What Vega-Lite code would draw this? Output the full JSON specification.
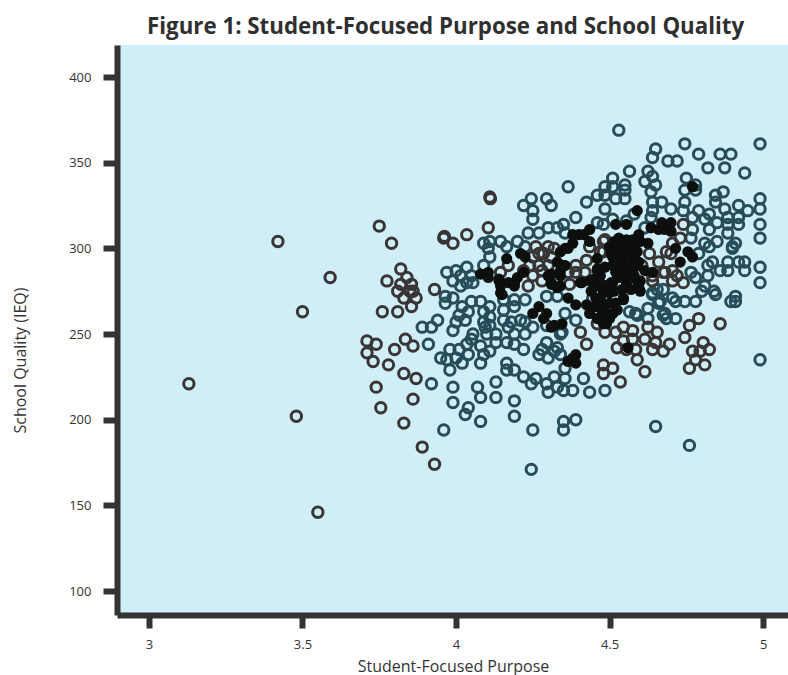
{"$schema":"https://vega.github.io/schema/vega-lite/v6.json","width":671,"height":570,"autosize":{"type":"none"},"padding":{"left":117,"top":45,"right":0,"bottom":60},"background":"white","title":{"text":"Figure 1: Student-Focused Purpose and School Quality","font":"Open Sans","fontWeight":"bold","fontSize":22.3,"color":"#2f2f2f","anchor":"start","frame":"group","dx":30,"dy":-7,"offset":0},"config":{"view":{"stroke":null,"fill":"#cfeef7"}},"data":{"values":[
{"x":3.92,"y":221,"g":"t"},{"x":3.96,"y":194,"g":"t"},{"x":3.99,"y":219,"g":"t"},{"x":3.99,"y":210,"g":"t"},{"x":4.07,"y":219,"g":"t"},{"x":4.08,"y":213,"g":"t"},{"x":4.13,"y":222,"g":"t"},{"x":4.13,"y":213,"g":"t"},{"x":4.19,"y":211,"g":"t"},{"x":4.19,"y":202,"g":"t"},{"x":4.08,"y":199,"g":"t"},{"x":4.04,"y":207,"g":"t"},{"x":4.03,"y":203,"g":"t"},{"x":4.25,"y":194,"g":"t"},{"x":4.245,"y":171,"g":"t"},{"x":4.35,"y":199,"g":"t"},{"x":4.35,"y":194,"g":"t"},{"x":4.39,"y":200,"g":"t"},{"x":3.89,"y":254,"g":"t"},{"x":3.92,"y":254,"g":"t"},{"x":3.94,"y":258,"g":"t"},{"x":3.91,"y":244,"g":"t"},{"x":3.95,"y":236,"g":"t"},{"x":3.98,"y":241,"g":"t"},{"x":3.97,"y":235,"g":"t"},{"x":4.01,"y":241,"g":"t"},{"x":3.98,"y":229,"g":"t"},{"x":4.0,"y":236,"g":"t"},{"x":4.02,"y":233,"g":"t"},{"x":4.04,"y":238,"g":"t"},{"x":4.035,"y":244,"g":"t"},{"x":4.05,"y":247,"g":"t"},{"x":4.08,"y":233,"g":"t"},{"x":4.08,"y":243,"g":"t"},{"x":4.11,"y":240,"g":"t"},{"x":4.09,"y":238,"g":"t"},{"x":4.165,"y":233,"g":"t"},{"x":4.165,"y":229,"g":"t"},{"x":4.19,"y":229,"g":"t"},{"x":4.22,"y":225,"g":"t"},{"x":4.26,"y":224,"g":"t"},{"x":4.245,"y":221,"g":"t"},{"x":4.295,"y":221,"g":"t"},{"x":4.3,"y":216,"g":"t"},{"x":4.32,"y":225,"g":"t"},{"x":4.33,"y":219,"g":"t"},{"x":4.35,"y":217,"g":"t"},{"x":4.355,"y":224,"g":"t"},{"x":4.38,"y":217,"g":"t"},{"x":4.355,"y":230,"g":"t"},{"x":3.99,"y":252,"g":"t"},{"x":4.0,"y":257,"g":"t"},{"x":4.03,"y":258,"g":"t"},{"x":4.01,"y":261,"g":"t"},{"x":4.02,"y":266,"g":"t"},{"x":3.965,"y":268,"g":"t"},{"x":3.965,"y":272,"g":"t"},{"x":3.99,"y":271,"g":"t"},{"x":4.04,"y":263,"g":"t"},{"x":4.05,"y":269,"g":"t"},{"x":4.08,"y":269,"g":"t"},{"x":4.09,"y":263,"g":"t"},{"x":4.11,"y":266,"g":"t"},{"x":4.11,"y":260,"g":"t"},{"x":4.09,"y":257,"g":"t"},{"x":4.095,"y":254,"g":"t"},{"x":4.11,"y":255,"g":"t"},{"x":4.155,"y":264,"g":"t"},{"x":4.155,"y":258,"g":"t"},{"x":4.18,"y":257,"g":"t"},{"x":4.19,"y":266,"g":"t"},{"x":4.21,"y":258,"g":"t"},{"x":4.225,"y":270,"g":"t"},{"x":4.25,"y":254,"g":"t"},{"x":4.225,"y":250,"g":"t"},{"x":4.19,"y":250,"g":"t"},{"x":4.13,"y":250,"g":"t"},{"x":4.13,"y":245,"g":"t"},{"x":4.165,"y":245,"g":"t"},{"x":4.19,"y":244,"g":"t"},{"x":4.22,"y":241,"g":"t"},{"x":4.1,"y":250,"g":"t"},{"x":4.295,"y":245,"g":"t"},{"x":4.27,"y":238,"g":"t"},{"x":4.28,"y":241,"g":"t"},{"x":4.3,"y":236,"g":"t"},{"x":4.32,"y":240,"g":"t"},{"x":4.33,"y":242,"g":"t"},{"x":4.34,"y":238,"g":"t"},{"x":4.34,"y":250,"g":"t"},{"x":4.295,"y":255,"g":"t"},{"x":4.295,"y":272,"g":"t"},{"x":4.33,"y":272,"g":"t"},{"x":4.155,"y":270,"g":"t"},{"x":4.19,"y":270,"g":"t"},{"x":4.17,"y":254,"g":"t"},{"x":4.225,"y":257,"g":"t"},{"x":4.055,"y":250,"g":"t"},{"x":4.365,"y":336,"g":"t"},{"x":4.245,"y":329,"g":"t"},{"x":4.295,"y":329,"g":"t"},{"x":4.22,"y":325,"g":"t"},{"x":4.31,"y":325,"g":"t"},{"x":4.25,"y":322,"g":"t"},{"x":4.25,"y":317,"g":"t"},{"x":4.39,"y":318,"g":"t"},{"x":4.09,"y":303,"g":"t"},{"x":4.11,"y":304,"g":"t"},{"x":4.145,"y":304,"g":"t"},{"x":4.2,"y":304,"g":"t"},{"x":4.235,"y":309,"g":"t"},{"x":4.27,"y":309,"g":"t"},{"x":4.3,"y":312,"g":"t"},{"x":4.33,"y":312,"g":"t"},{"x":4.35,"y":314,"g":"t"},{"x":4.355,"y":309,"g":"t"},{"x":4.105,"y":300,"g":"t"},{"x":4.165,"y":301,"g":"t"},{"x":4.11,"y":295,"g":"t"},{"x":4.09,"y":290,"g":"t"},{"x":4.225,"y":301,"g":"t"},{"x":3.97,"y":286,"g":"t"},{"x":4.0,"y":287,"g":"t"},{"x":4.035,"y":289,"g":"t"},{"x":3.99,"y":281,"g":"t"},{"x":4.015,"y":284,"g":"t"},{"x":4.05,"y":284,"g":"t"},{"x":4.035,"y":280,"g":"t"},{"x":4.015,"y":278,"g":"t"},{"x":4.055,"y":280,"g":"t"},{"x":4.53,"y":369,"g":"t"},{"x":4.65,"y":358,"g":"t"},{"x":4.64,"y":353,"g":"t"},{"x":4.745,"y":361,"g":"t"},{"x":4.69,"y":351,"g":"t"},{"x":4.72,"y":351,"g":"t"},{"x":4.79,"y":355,"g":"t"},{"x":4.86,"y":355,"g":"t"},{"x":4.895,"y":355,"g":"t"},{"x":4.99,"y":361,"g":"t"},{"x":4.82,"y":347,"g":"t"},{"x":4.875,"y":347,"g":"t"},{"x":4.94,"y":344,"g":"t"},{"x":4.565,"y":345,"g":"t"},{"x":4.625,"y":345,"g":"t"},{"x":4.64,"y":342,"g":"t"},{"x":4.51,"y":341,"g":"t"},{"x":4.615,"y":339,"g":"t"},{"x":4.65,"y":337,"g":"t"},{"x":4.55,"y":337,"g":"t"},{"x":4.485,"y":336,"g":"t"},{"x":4.51,"y":336,"g":"t"},{"x":4.55,"y":334,"g":"t"},{"x":4.46,"y":331,"g":"t"},{"x":4.485,"y":331,"g":"t"},{"x":4.52,"y":329,"g":"t"},{"x":4.55,"y":329,"g":"t"},{"x":4.635,"y":333,"g":"t"},{"x":4.425,"y":327,"g":"t"},{"x":4.485,"y":323,"g":"t"},{"x":4.75,"y":341,"g":"t"},{"x":4.78,"y":337,"g":"t"},{"x":4.745,"y":334,"g":"t"},{"x":4.78,"y":334,"g":"t"},{"x":4.845,"y":331,"g":"t"},{"x":4.87,"y":333,"g":"t"},{"x":4.745,"y":327,"g":"t"},{"x":4.845,"y":327,"g":"t"},{"x":4.64,"y":327,"g":"t"},{"x":4.67,"y":327,"g":"t"},{"x":4.7,"y":323,"g":"t"},{"x":4.64,"y":322,"g":"t"},{"x":4.74,"y":322,"g":"t"},{"x":4.79,"y":322,"g":"t"},{"x":4.825,"y":320,"g":"t"},{"x":4.875,"y":323,"g":"t"},{"x":4.92,"y":325,"g":"t"},{"x":4.95,"y":322,"g":"t"},{"x":4.99,"y":329,"g":"t"},{"x":4.99,"y":323,"g":"t"},{"x":4.99,"y":314,"g":"t"},{"x":4.99,"y":306,"g":"t"},{"x":4.92,"y":318,"g":"t"},{"x":4.92,"y":314,"g":"t"},{"x":4.885,"y":318,"g":"t"},{"x":4.85,"y":315,"g":"t"},{"x":4.885,"y":314,"g":"t"},{"x":4.81,"y":317,"g":"t"},{"x":4.77,"y":318,"g":"t"},{"x":4.77,"y":311,"g":"t"},{"x":4.825,"y":311,"g":"t"},{"x":4.885,"y":309,"g":"t"},{"x":4.85,"y":304,"g":"t"},{"x":4.9,"y":301,"g":"t"},{"x":4.91,"y":303,"g":"t"},{"x":4.9,"y":300,"g":"t"},{"x":4.81,"y":303,"g":"t"},{"x":4.825,"y":301,"g":"t"},{"x":4.765,"y":306,"g":"t"},{"x":4.79,"y":297,"g":"t"},{"x":4.835,"y":292,"g":"t"},{"x":4.82,"y":290,"g":"t"},{"x":4.885,"y":292,"g":"t"},{"x":4.92,"y":292,"g":"t"},{"x":4.94,"y":292,"g":"t"},{"x":4.86,"y":287,"g":"t"},{"x":4.885,"y":287,"g":"t"},{"x":4.94,"y":287,"g":"t"},{"x":4.99,"y":289,"g":"t"},{"x":4.99,"y":280,"g":"t"},{"x":4.82,"y":284,"g":"t"},{"x":4.78,"y":283,"g":"t"},{"x":4.765,"y":286,"g":"t"},{"x":4.81,"y":278,"g":"t"},{"x":4.84,"y":275,"g":"t"},{"x":4.635,"y":318,"g":"t"},{"x":4.58,"y":320,"g":"t"},{"x":4.46,"y":315,"g":"t"},{"x":4.48,"y":314,"g":"t"},{"x":4.51,"y":317,"g":"t"},{"x":4.555,"y":316,"g":"t"},{"x":4.615,"y":312,"g":"t"},{"x":4.99,"y":235,"g":"t"},{"x":4.65,"y":196,"g":"t"},{"x":4.76,"y":185,"g":"t"},{"x":4.415,"y":224,"g":"t"},{"x":4.435,"y":216,"g":"t"},{"x":4.485,"y":217,"g":"t"},{"x":4.625,"y":265,"g":"t"},{"x":4.715,"y":269,"g":"t"},{"x":4.745,"y":269,"g":"t"},{"x":4.78,"y":269,"g":"t"},{"x":4.68,"y":262,"g":"t"},{"x":4.715,"y":259,"g":"t"},{"x":4.685,"y":259,"g":"t"},{"x":4.845,"y":273,"g":"t"},{"x":4.895,"y":269,"g":"t"},{"x":4.91,"y":272,"g":"t"},{"x":4.91,"y":269,"g":"t"},{"x":4.64,"y":273,"g":"t"},{"x":4.66,"y":268,"g":"t"},{"x":4.59,"y":261,"g":"t"},{"x":4.565,"y":263,"g":"t"},{"x":4.625,"y":259,"g":"t"},{"x":4.8,"y":275,"g":"t"},{"x":4.39,"y":258,"g":"t"},{"x":4.355,"y":262,"g":"t"},{"x":4.445,"y":271,"g":"t"},{"x":4.345,"y":251,"g":"t"},{"x":4.675,"y":261,"g":"t"},{"x":4.665,"y":269,"g":"t"},{"x":4.585,"y":262,"g":"t"},{"x":4.655,"y":276,"g":"t"},{"x":4.675,"y":276,"g":"t"},{"x":4.64,"y":274,"g":"t"},{"x":4.705,"y":271,"g":"t"},
{"x":3.13,"y":221,"g":"g"},{"x":3.42,"y":304,"g":"g"},{"x":3.48,"y":202,"g":"g"},{"x":3.5,"y":263,"g":"g"},{"x":3.55,"y":146,"g":"g"},{"x":3.59,"y":283,"g":"g"},{"x":3.75,"y":313,"g":"g"},{"x":3.79,"y":303,"g":"g"},{"x":3.82,"y":288,"g":"g"},{"x":3.84,"y":283,"g":"g"},{"x":3.775,"y":281,"g":"g"},{"x":3.82,"y":279,"g":"g"},{"x":3.855,"y":279,"g":"g"},{"x":3.81,"y":275,"g":"g"},{"x":3.86,"y":275,"g":"g"},{"x":3.85,"y":275,"g":"g"},{"x":3.83,"y":271,"g":"g"},{"x":3.87,"y":271,"g":"g"},{"x":3.855,"y":266,"g":"g"},{"x":3.76,"y":263,"g":"g"},{"x":3.81,"y":263,"g":"g"},{"x":3.835,"y":247,"g":"g"},{"x":3.86,"y":243,"g":"g"},{"x":3.8,"y":241,"g":"g"},{"x":3.71,"y":246,"g":"g"},{"x":3.74,"y":244,"g":"g"},{"x":3.71,"y":239,"g":"g"},{"x":3.73,"y":234,"g":"g"},{"x":3.78,"y":232,"g":"g"},{"x":3.83,"y":227,"g":"g"},{"x":3.87,"y":224,"g":"g"},{"x":3.74,"y":219,"g":"g"},{"x":3.86,"y":212,"g":"g"},{"x":3.755,"y":207,"g":"g"},{"x":3.83,"y":198,"g":"g"},{"x":3.89,"y":184,"g":"g"},{"x":3.93,"y":174,"g":"g"},{"x":3.93,"y":276,"g":"g"},{"x":4.11,"y":330,"g":"g"},{"x":4.112,"y":329,"g":"g"},{"x":4.105,"y":312,"g":"g"},{"x":4.035,"y":308,"g":"g"},{"x":3.96,"y":306,"g":"g"},{"x":3.962,"y":307,"g":"g"},{"x":3.99,"y":303,"g":"g"},{"x":4.26,"y":301,"g":"g"},{"x":4.285,"y":297,"g":"g"},{"x":4.32,"y":300,"g":"g"},{"x":4.27,"y":290,"g":"g"},{"x":4.3,"y":290,"g":"g"},{"x":4.17,"y":290,"g":"g"},{"x":4.145,"y":286,"g":"g"},{"x":4.22,"y":287,"g":"g"},{"x":4.25,"y":284,"g":"g"},{"x":4.28,"y":281,"g":"g"},{"x":4.235,"y":278,"g":"g"},{"x":4.39,"y":290,"g":"g"},{"x":4.365,"y":286,"g":"g"},{"x":4.74,"y":314,"g":"g"},{"x":4.73,"y":306,"g":"g"},{"x":4.63,"y":297,"g":"g"},{"x":4.66,"y":292,"g":"g"},{"x":4.685,"y":298,"g":"g"},{"x":4.68,"y":286,"g":"g"},{"x":4.72,"y":284,"g":"g"},{"x":4.705,"y":281,"g":"g"},{"x":4.74,"y":280,"g":"g"},{"x":4.64,"y":284,"g":"g"},{"x":4.47,"y":298,"g":"g"},{"x":4.435,"y":301,"g":"g"},{"x":4.485,"y":305,"g":"g"},{"x":4.425,"y":293,"g":"g"},{"x":4.405,"y":251,"g":"g"},{"x":4.425,"y":244,"g":"g"},{"x":4.48,"y":232,"g":"g"},{"x":4.51,"y":230,"g":"g"},{"x":4.48,"y":227,"g":"g"},{"x":4.535,"y":222,"g":"g"},{"x":4.615,"y":228,"g":"g"},{"x":4.59,"y":235,"g":"g"},{"x":4.585,"y":241,"g":"g"},{"x":4.555,"y":241,"g":"g"},{"x":4.525,"y":242,"g":"g"},{"x":4.575,"y":247,"g":"g"},{"x":4.575,"y":252,"g":"g"},{"x":4.545,"y":254,"g":"g"},{"x":4.545,"y":246,"g":"g"},{"x":4.52,"y":251,"g":"g"},{"x":4.485,"y":251,"g":"g"},{"x":4.615,"y":247,"g":"g"},{"x":4.625,"y":254,"g":"g"},{"x":4.655,"y":251,"g":"g"},{"x":4.64,"y":241,"g":"g"},{"x":4.65,"y":245,"g":"g"},{"x":4.675,"y":240,"g":"g"},{"x":4.695,"y":244,"g":"g"},{"x":4.46,"y":256,"g":"g"},{"x":4.86,"y":256,"g":"g"},{"x":4.79,"y":259,"g":"g"},{"x":4.76,"y":255,"g":"g"},{"x":4.745,"y":248,"g":"g"},{"x":4.805,"y":245,"g":"g"},{"x":4.825,"y":241,"g":"g"},{"x":4.77,"y":240,"g":"g"},{"x":4.795,"y":240,"g":"g"},{"x":4.78,"y":235,"g":"g"},{"x":4.76,"y":230,"g":"g"},{"x":4.81,"y":232,"g":"g"},{"x":4.48,"y":304,"g":"g"},{"x":4.39,"y":286,"g":"g"},{"x":4.42,"y":286,"g":"g"},{"x":4.48,"y":298,"g":"g"},{"x":4.605,"y":290,"g":"g"},{"x":4.675,"y":286,"g":"g"},{"x":4.64,"y":281,"g":"g"},{"x":4.705,"y":287,"g":"g"},{"x":4.7,"y":297,"g":"g"},{"x":4.705,"y":303,"g":"g"},{"x":4.27,"y":297,"g":"g"},{"x":4.25,"y":295,"g":"g"},{"x":4.3,"y":301,"g":"g"},{"x":4.28,"y":287,"g":"g"},{"x":4.24,"y":290,"g":"g"},{"x":4.31,"y":295,"g":"g"},{"x":4.37,"y":279,"g":"g"},{"x":4.33,"y":283,"g":"g"},
{"x":4.08,"y":285,"g":"b"},{"x":4.105,"y":286,"g":"b"},{"x":4.105,"y":283,"g":"b"},{"x":4.165,"y":294,"g":"b"},{"x":4.21,"y":297,"g":"b"},{"x":4.225,"y":295,"g":"b"},{"x":4.14,"y":281,"g":"b"},{"x":4.145,"y":278,"g":"b"},{"x":4.17,"y":280,"g":"b"},{"x":4.19,"y":280,"g":"b"},{"x":4.2,"y":283,"g":"b"},{"x":4.22,"y":286,"g":"b"},{"x":4.19,"y":278,"g":"b"},{"x":4.34,"y":298,"g":"b"},{"x":4.365,"y":300,"g":"b"},{"x":4.38,"y":303,"g":"b"},{"x":4.38,"y":308,"g":"b"},{"x":4.4,"y":308,"g":"b"},{"x":4.33,"y":292,"g":"b"},{"x":4.355,"y":290,"g":"b"},{"x":4.34,"y":287,"g":"b"},{"x":4.3,"y":284,"g":"b"},{"x":4.34,"y":284,"g":"b"},{"x":4.31,"y":280,"g":"b"},{"x":4.34,"y":278,"g":"b"},{"x":4.77,"y":336,"g":"b"},{"x":4.59,"y":322,"g":"b"},{"x":4.435,"y":311,"g":"b"},{"x":4.52,"y":314,"g":"b"},{"x":4.555,"y":314,"g":"b"},{"x":4.635,"y":312,"g":"b"},{"x":4.67,"y":315,"g":"b"},{"x":4.7,"y":315,"g":"b"},{"x":4.66,"y":311,"g":"b"},{"x":4.7,"y":310,"g":"b"},{"x":4.68,"y":311,"g":"b"},{"x":4.595,"y":308,"g":"b"},{"x":4.6,"y":304,"g":"b"},{"x":4.625,"y":303,"g":"b"},{"x":4.555,"y":305,"g":"b"},{"x":4.51,"y":301,"g":"b"},{"x":4.535,"y":301,"g":"b"},{"x":4.565,"y":301,"g":"b"},{"x":4.715,"y":300,"g":"b"},{"x":4.755,"y":298,"g":"b"},{"x":4.77,"y":295,"g":"b"},{"x":4.73,"y":292,"g":"b"},{"x":4.415,"y":308,"g":"b"},{"x":4.435,"y":304,"g":"b"},{"x":4.51,"y":295,"g":"b"},{"x":4.545,"y":297,"g":"b"},{"x":4.58,"y":295,"g":"b"},{"x":4.46,"y":294,"g":"b"},{"x":4.535,"y":289,"g":"b"},{"x":4.595,"y":292,"g":"b"},{"x":4.52,"y":286,"g":"b"},{"x":4.575,"y":287,"g":"b"},{"x":4.615,"y":287,"g":"b"},{"x":4.64,"y":286,"g":"b"},{"x":4.46,"y":287,"g":"b"},{"x":4.485,"y":289,"g":"b"},{"x":4.47,"y":284,"g":"b"},{"x":4.435,"y":281,"g":"b"},{"x":4.505,"y":280,"g":"b"},{"x":4.555,"y":280,"g":"b"},{"x":4.6,"y":281,"g":"b"},{"x":4.41,"y":280,"g":"b"},{"x":4.365,"y":271,"g":"b"},{"x":4.39,"y":267,"g":"b"},{"x":4.425,"y":267,"g":"b"},{"x":4.48,"y":274,"g":"b"},{"x":4.47,"y":271,"g":"b"},{"x":4.5,"y":274,"g":"b"},{"x":4.545,"y":271,"g":"b"},{"x":4.6,"y":275,"g":"b"},{"x":4.555,"y":279,"g":"b"},{"x":4.59,"y":281,"g":"b"},{"x":4.51,"y":280,"g":"b"},{"x":4.48,"y":265,"g":"b"},{"x":4.435,"y":262,"g":"b"},{"x":4.46,"y":259,"g":"b"},{"x":4.475,"y":264,"g":"b"},{"x":4.5,"y":259,"g":"b"},{"x":4.525,"y":264,"g":"b"},{"x":4.48,"y":256,"g":"b"},{"x":4.545,"y":270,"g":"b"},{"x":4.56,"y":242,"g":"b"},{"x":4.39,"y":238,"g":"b"},{"x":4.365,"y":234,"g":"b"},{"x":4.39,"y":233,"g":"b"},{"x":4.38,"y":236,"g":"b"},{"x":4.345,"y":256,"g":"b"},{"x":4.25,"y":262,"g":"b"},{"x":4.27,"y":266,"g":"b"},{"x":4.295,"y":262,"g":"b"},{"x":4.285,"y":259,"g":"b"},{"x":4.32,"y":255,"g":"b"},{"x":4.31,"y":254,"g":"b"},{"x":4.15,"y":273,"g":"b"},{"x":4.14,"y":282,"g":"b"},{"x":4.145,"y":274,"g":"b"},{"x":4.31,"y":285,"g":"b"},{"x":4.31,"y":279,"g":"b"},{"x":4.33,"y":277,"g":"b"},{"x":4.355,"y":300,"g":"b"},{"x":4.35,"y":290,"g":"b"},{"x":4.5,"y":301,"g":"b"},{"x":4.555,"y":304,"g":"b"},{"x":4.46,"y":288,"g":"b"},{"x":4.525,"y":286,"g":"b"},{"x":4.565,"y":290,"g":"b"},{"x":4.51,"y":290,"g":"b"},{"x":4.535,"y":299,"g":"b"},{"x":4.535,"y":292,"g":"b"},{"x":4.405,"y":280,"g":"b"},{"x":4.515,"y":304,"g":"b"},{"x":4.53,"y":306,"g":"b"},{"x":4.545,"y":303,"g":"b"},{"x":4.52,"y":298,"g":"b"},{"x":4.55,"y":300,"g":"b"},{"x":4.57,"y":298,"g":"b"},{"x":4.505,"y":297,"g":"b"},{"x":4.53,"y":294,"g":"b"},{"x":4.56,"y":292,"g":"b"},{"x":4.585,"y":290,"g":"b"},{"x":4.515,"y":291,"g":"b"},{"x":4.545,"y":287,"g":"b"},{"x":4.56,"y":284,"g":"b"},{"x":4.53,"y":283,"g":"b"},{"x":4.58,"y":284,"g":"b"},{"x":4.595,"y":278,"g":"b"},{"x":4.57,"y":276,"g":"b"},{"x":4.54,"y":276,"g":"b"},{"x":4.515,"y":275,"g":"b"},{"x":4.49,"y":278,"g":"b"},{"x":4.475,"y":279,"g":"b"},{"x":4.46,"y":278,"g":"b"},{"x":4.45,"y":282,"g":"b"},{"x":4.44,"y":275,"g":"b"},{"x":4.455,"y":271,"g":"b"},{"x":4.5,"y":268,"g":"b"},{"x":4.52,"y":268,"g":"b"},{"x":4.47,"y":260,"g":"b"},{"x":4.49,"y":262,"g":"b"},{"x":4.51,"y":262,"g":"b"},{"x":4.49,"y":256,"g":"b"},{"x":4.47,"y":268,"g":"b"},{"x":4.455,"y":266,"g":"b"},{"x":4.58,"y":301,"g":"b"},{"x":4.59,"y":298,"g":"b"},{"x":4.575,"y":305,"g":"b"}
]},"encoding":{"x":{"field":"x","type":"quantitative","scale":{"domain":[2.896,5.081],"nice":false,"zero":false},"axis":{"values":[3,3.5,4,4.5,5],"format":"~g","grid":false,"title":"Student-Focused Purpose","titleFont":"Open Sans","titleFontWeight":"normal","titleFontSize":16,"titleColor":"#333333","titleX":336,"titleY":51,"titleAlign":"center","titleBaseline":"middle","labelFont":"Open Sans","labelFontSize":13,"labelColor":"#333333","labelPadding":10,"labelFlush":false,"domainWidth":6,"domainColor":"#333333","tickWidth":6,"tickColor":"#333333","tickSize":13}},"y":{"field":"y","type":"quantitative","scale":{"domain":[86,418.7],"nice":false,"zero":false},"axis":{"values":[100,150,200,250,300,350,400],"grid":false,"title":"School Quality (IEQ)","titleFont":"Open Sans","titleFontWeight":"normal","titleFontSize":16,"titleColor":"#333333","titleX":-97,"titleY":315,"titleAlign":"center","titleBaseline":"middle","labelFont":"Open Sans","labelFontSize":13,"labelColor":"#333333","labelPadding":12,"domainWidth":6,"domainColor":"#333333","tickWidth":6,"tickColor":"#333333","tickSize":14}}},"layer":[{"transform":[{"filter":"datum.g !== 'b'"}],"mark":{"type":"point","filled":false,"size":108,"strokeWidth":3,"opacity":1,"clip":true},"encoding":{"color":{"field":"g","type":"nominal","scale":{"domain":["t","g"],"range":["#264d59","#3a3535"]},"legend":null}}},{"transform":[{"filter":"datum.g === 'b'"}],"mark":{"type":"point","filled":true,"size":125,"color":"#0d0f0c","opacity":1,"strokeWidth":0,"clip":true}}]}
